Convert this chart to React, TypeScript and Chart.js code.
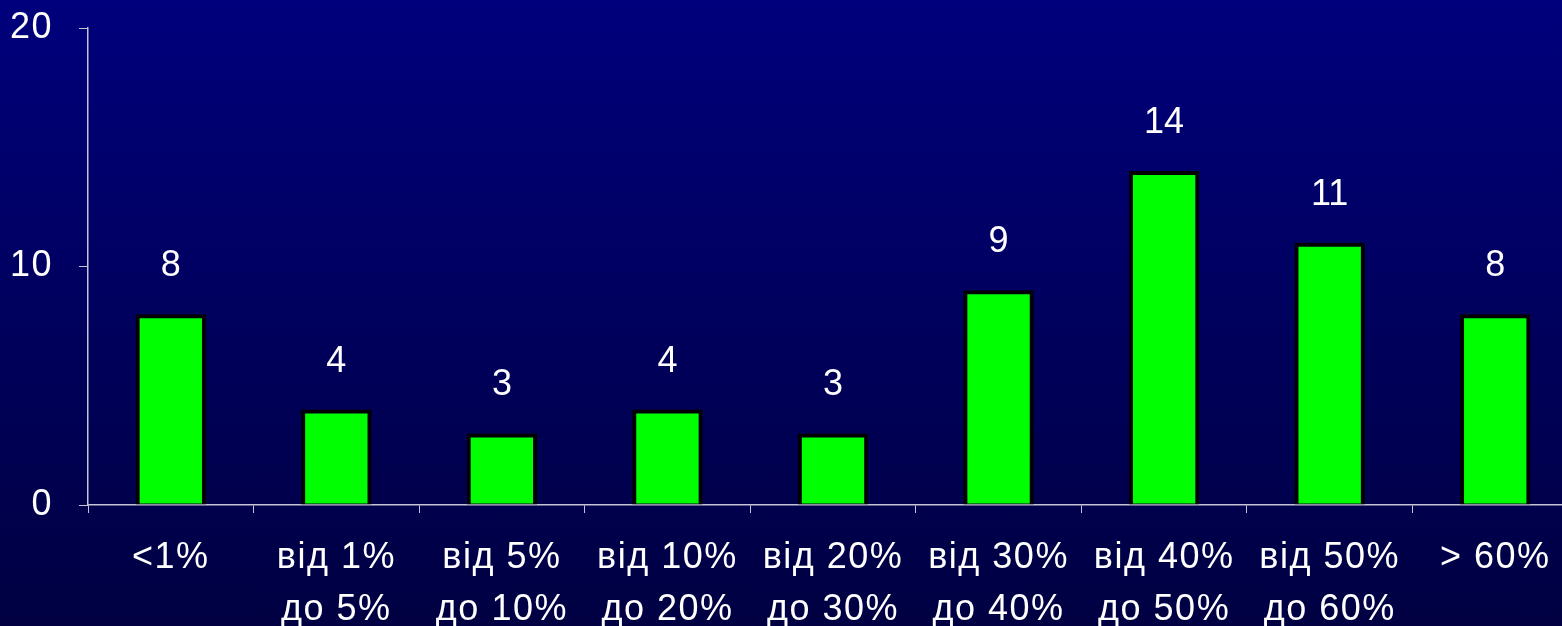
import React, { useEffect, useRef } from "react";
import { Chart, registerables } from "chart.js";

Chart.register(...registerables);

const categories: string[][] = [
  ["<1%"],
  ["від 1%", "до 5%"],
  ["від 5%", "до 10%"],
  ["від 10%", "до 20%"],
  ["від 20%", "до 30%"],
  ["від 30%", "до 40%"],
  ["від 40%", "до 50%"],
  ["від 50%", "до 60%"],
  ["> 60%"],
];
const values: number[] = [8, 4, 3, 4, 3, 9, 14, 11, 8];
const yTicks: number[] = [0, 10, 20];

const AXIS = "#c4c4d6";
const FONT = "'Liberation Sans', Arial, sans-serif";

const spacing = {
  id: "spacing",
  beforeDraw(chart: any) {
    (chart.ctx as any).letterSpacing = "1.5px";
  },
};

const valueLabels = {
  id: "valueLabels",
  afterDatasetsDraw(chart: any) {
    const ctx = chart.ctx;
    const meta = chart.getDatasetMeta(0);
    ctx.save();
    (ctx as any).letterSpacing = "0px";
    ctx.fillStyle = "#ffffff";
    ctx.font = `36px ${FONT}`;
    ctx.textAlign = "center";
    ctx.textBaseline = "middle";
    meta.data.forEach((bar: any, i: number) => {
      ctx.fillText(String(values[i]), bar.x, bar.y - 48);
    });
    ctx.restore();
  },
};

export default function App() {
  const ref = useRef<HTMLCanvasElement>(null);
  useEffect(() => {
    if (!ref.current) return;
    const chart = new Chart(ref.current, {
      type: "bar",
      data: {
        labels: categories,
        datasets: [
          {
            data: values,
            backgroundColor: "#00ff00",
            borderColor: "#000000",
            borderWidth: { top: 4, left: 4, right: 4, bottom: 1 },
            borderSkipped: false,
            barPercentage: 0.85,
            categoryPercentage: 0.5,
          },
        ],
      },
      options: {
        animation: false,
        responsive: false,
        maintainAspectRatio: false,
        layout: { padding: { top: 28, right: 22, left: 0, bottom: 0 } },
        plugins: { legend: { display: false }, tooltip: { enabled: false } },
        scales: {
          x: {
            grid: {
              display: true,
              drawOnChartArea: false,
              drawTicks: true,
              tickLength: 8,
              color: AXIS,
              offset: true,
            },
            border: { display: true, color: AXIS, width: 1.5 },
            ticks: {
              color: "#ffffff",
              font: { family: FONT, size: 36, lineHeight: 1.42 },
              padding: 20,
              maxRotation: 0,
              autoSkip: false,
            },
            afterFit: (s: any) => {
              s.height = 121;
            },
          },
          y: {
            min: 0,
            max: 20,
            afterBuildTicks: (s: any) => {
              s.ticks = yTicks.map((v) => ({ value: v }));
            },
            grid: {
              display: true,
              drawOnChartArea: false,
              drawTicks: true,
              tickLength: 9,
              color: AXIS,
            },
            border: { display: true, color: AXIS, width: 1.5 },
            ticks: {
              color: "#ffffff",
              font: { family: FONT, size: 36 },
              padding: 26,
            },
            afterFit: (s: any) => {
              s.width = 88;
              s.paddingTop = 0;
              s.paddingBottom = 0;
            },
          },
        },
      },
      plugins: [spacing, valueLabels],
    });
    return () => chart.destroy();
  }, []);

  return (
    <div
      style={{
        position: "fixed",
        left: 0,
        top: 0,
        width: 1562,
        height: 626,
        overflow: "hidden",
        background: "linear-gradient(to bottom, #00007c 0%, #000058 60%, #000042 100%)",
      }}
    >
      <canvas ref={ref} width={1600} height={626} style={{ display: "block" }} />
    </div>
  );
}
